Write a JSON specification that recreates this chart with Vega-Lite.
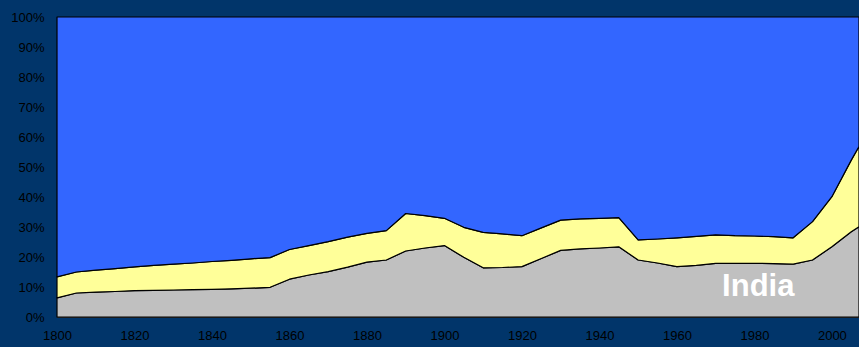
{
  "$schema": "https://vega.github.io/schema/vega-lite/v6.json",
  "width": 802,
  "height": 300,
  "autosize": {"type": "none"},
  "padding": {"left": 57, "top": 17, "right": 0, "bottom": 30},
  "background": "#01356a",
  "config": {
    "view": {"stroke": "#333333", "strokeWidth": 1}
  },
  "datasets": {
    "shares": [
      {"year": 1800, "India": 0.064, "Other": 0.070, "Rest": 0.866},
      {"year": 1805, "India": 0.080, "Other": 0.070, "Rest": 0.850},
      {"year": 1810, "India": 0.083, "Other": 0.073, "Rest": 0.844},
      {"year": 1815, "India": 0.085, "Other": 0.076, "Rest": 0.839},
      {"year": 1820, "India": 0.088, "Other": 0.079, "Rest": 0.833},
      {"year": 1825, "India": 0.089, "Other": 0.083, "Rest": 0.828},
      {"year": 1830, "India": 0.090, "Other": 0.086, "Rest": 0.824},
      {"year": 1835, "India": 0.091, "Other": 0.089, "Rest": 0.820},
      {"year": 1840, "India": 0.092, "Other": 0.093, "Rest": 0.815},
      {"year": 1845, "India": 0.094, "Other": 0.095, "Rest": 0.811},
      {"year": 1850, "India": 0.096, "Other": 0.098, "Rest": 0.806},
      {"year": 1855, "India": 0.099, "Other": 0.099, "Rest": 0.802},
      {"year": 1860, "India": 0.126, "Other": 0.099, "Rest": 0.775},
      {"year": 1865, "India": 0.140, "Other": 0.098, "Rest": 0.762},
      {"year": 1870, "India": 0.151, "Other": 0.100, "Rest": 0.749},
      {"year": 1875, "India": 0.166, "Other": 0.100, "Rest": 0.734},
      {"year": 1880, "India": 0.183, "Other": 0.096, "Rest": 0.721},
      {"year": 1885, "India": 0.190, "Other": 0.098, "Rest": 0.712},
      {"year": 1890, "India": 0.220, "Other": 0.125, "Rest": 0.655},
      {"year": 1895, "India": 0.230, "Other": 0.108, "Rest": 0.662},
      {"year": 1900, "India": 0.238, "Other": 0.091, "Rest": 0.671},
      {"year": 1905, "India": 0.199, "Other": 0.100, "Rest": 0.701},
      {"year": 1910, "India": 0.164, "Other": 0.118, "Rest": 0.718},
      {"year": 1915, "India": 0.165, "Other": 0.112, "Rest": 0.723},
      {"year": 1920, "India": 0.168, "Other": 0.103, "Rest": 0.729},
      {"year": 1925, "India": 0.195, "Other": 0.102, "Rest": 0.703},
      {"year": 1930, "India": 0.222, "Other": 0.101, "Rest": 0.677},
      {"year": 1935, "India": 0.227, "Other": 0.100, "Rest": 0.673},
      {"year": 1940, "India": 0.230, "Other": 0.099, "Rest": 0.671},
      {"year": 1945, "India": 0.234, "Other": 0.097, "Rest": 0.669},
      {"year": 1950, "India": 0.190, "Other": 0.067, "Rest": 0.743},
      {"year": 1955, "India": 0.180, "Other": 0.080, "Rest": 0.740},
      {"year": 1960, "India": 0.168, "Other": 0.096, "Rest": 0.736},
      {"year": 1965, "India": 0.172, "Other": 0.097, "Rest": 0.731},
      {"year": 1970, "India": 0.179, "Other": 0.095, "Rest": 0.726},
      {"year": 1975, "India": 0.179, "Other": 0.092, "Rest": 0.729},
      {"year": 1980, "India": 0.179, "Other": 0.091, "Rest": 0.730},
      {"year": 1985, "India": 0.178, "Other": 0.090, "Rest": 0.732},
      {"year": 1990, "India": 0.176, "Other": 0.088, "Rest": 0.736},
      {"year": 1995, "India": 0.190, "Other": 0.128, "Rest": 0.682},
      {"year": 2000, "India": 0.234, "Other": 0.167, "Rest": 0.599},
      {"year": 2005, "India": 0.284, "Other": 0.239, "Rest": 0.477},
      {"year": 2007, "India": 0.301, "Other": 0.267, "Rest": 0.432}
    ],
    "labels": [{"name": "India", "year": 1981, "value": 0.10}]
  },
  "encoding": {
    "x": {
      "field": "year",
      "type": "quantitative",
      "scale": {"domain": [1800, 2007], "nice": false, "zero": false},
      "axis": {
        "values": [1800, 1820, 1840, 1860, 1880, 1900, 1920, 1940, 1960, 1980, 2000],
        "format": "d",
        "title": null,
        "grid": false,
        "ticks": false,
        "domainColor": "#333333",
        "labelColor": "#000000",
        "labelFont": "Liberation Sans",
        "labelFontSize": 13,
        "labelPadding": 12,
        "labelFlush": false,
        "labelOverlap": false
      }
    },
    "y": {
      "field": "value",
      "type": "quantitative",
      "scale": {"domain": [0, 1], "nice": false},
      "axis": {
        "values": [0, 0.1, 0.2, 0.3, 0.4, 0.5, 0.6, 0.7, 0.8, 0.9, 1],
        "format": ".0%",
        "title": null,
        "grid": false,
        "ticks": false,
        "domainColor": "#333333",
        "labelColor": "#000000",
        "labelFont": "Liberation Sans",
        "labelFontSize": 13,
        "labelPadding": 13,
        "labelFlush": false,
        "labelOverlap": false
      }
    }
  },
  "layer": [
    {
      "data": {"name": "shares"},
      "transform": [{"fold": ["India", "Other", "Rest"], "as": ["series", "value"]}],
      "mark": {"type": "area", "stroke": "#000000", "strokeWidth": 1.2, "strokeJoin": "round"},
      "encoding": {
        "color": {
          "field": "series",
          "type": "nominal",
          "scale": {"domain": ["India", "Other", "Rest"], "range": ["#c0c0c0", "#ffff99", "#3366ff"]},
          "legend": null
        },
        "order": {"field": "series", "sort": "ascending"}
      }
    },
    {
      "data": {"name": "labels"},
      "mark": {"type": "text", "font": "Liberation Sans", "fontWeight": "bold", "fontSize": 31, "color": "#ffffff", "align": "center", "baseline": "middle"},
      "encoding": {
        "text": {"field": "name"}
      }
    }
  ]
}
